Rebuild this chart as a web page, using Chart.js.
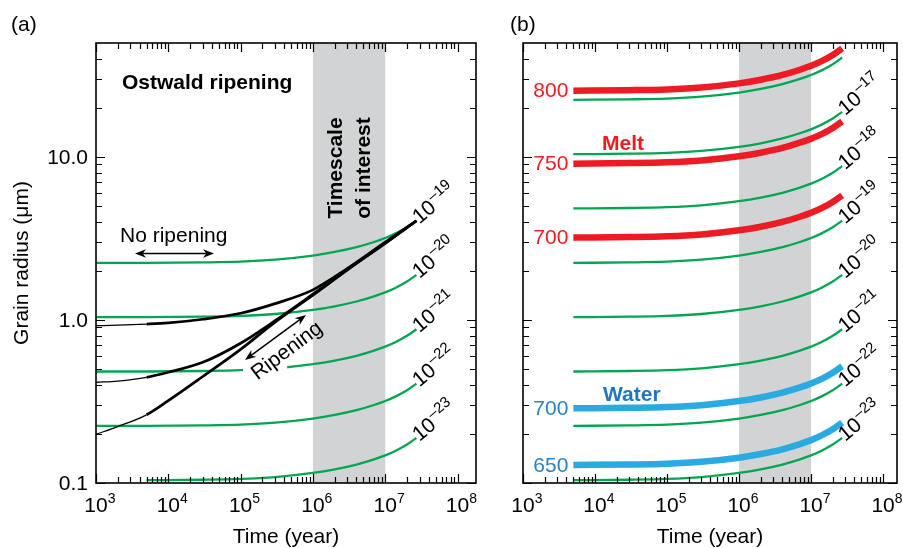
<!DOCTYPE html>
<html>
<head>
<meta charset="utf-8">
<script src="https://cdn.jsdelivr.net/npm/chart.js@4.4.1/dist/chart.umd.min.js"></script>
<style>
  html, body { margin: 0; padding: 0; background: #fff; }
  #wrap { position: relative; width: 903px; height: 548px; }
  canvas { position: absolute; top: 0; }
  #chartA { left: 0; }
  #chartB { left: 500px; }
</style>
</head>
<body>
<div id="wrap">
  <canvas id="chartA" width="500" height="548"></canvas>
  <canvas id="chartB" width="403" height="548"></canvas>
</div>
<script>
// ---- data (time in years, grain radius in µm) ----
const timeCurve = [5e3, 3e4, 1e5, 3e5, 1e6, 2e6, 4e6, 7e6, 1e7, 1.4e7, 2e7, 2.7e7];
const timeStartA = 1e3;            // panel (a) curves stay flat back to 10^3
const timeBlack = [1e3, 2e3, 5e3, 1e4, 3e4, 1e5, 3e5, 1e6, 3e6, 1e7, 2.7e7];

const green16 = [22.4, 22.56, 22.81, 23.43, 24.83, 26.13, 27.96, 30.09, 31.82, 33.98, 37.06, 40.71];
const green17 = [10.4, 10.47, 10.59, 10.88, 11.53, 12.13, 12.98, 13.97, 14.77, 15.78, 17.21, 18.90];
const green18 = [4.83, 4.864, 4.919, 5.053, 5.355, 5.634, 6.029, 6.489, 6.861, 7.327, 7.992, 8.779];
const green19 = [2.24, 2.256, 2.281, 2.344, 2.483, 2.613, 2.796, 3.009, 3.182, 3.398, 3.706, 4.071];
const green20 = [1.04, 1.047, 1.059, 1.088, 1.153, 1.213, 1.298, 1.397, 1.477, 1.578, 1.721, 1.890];
const green21 = [0.483, 0.4864, 0.4919, 0.5053, 0.5355, 0.5634, 0.6029, 0.6489, 0.6861, 0.7327, 0.7992, 0.8779];
const green22 = [0.224, 0.2256, 0.2281, 0.2343, 0.2483, 0.2613, 0.2796, 0.3009, 0.3182, 0.3398, 0.3706, 0.4071];
const green23 = [0.104, 0.1047, 0.1059, 0.1088, 0.1153, 0.1213, 0.1298, 0.1397, 0.1477, 0.1578, 0.1721, 0.1890];

const melt800 = [25.5, 25.68, 25.97, 26.68, 28.27, 29.75, 31.83, 34.26, 36.22, 38.68, 42.19, 46.35];
const melt750 = [9.1, 9.165, 9.268, 9.52, 10.09, 10.62, 11.36, 12.23, 12.93, 13.80, 15.06, 16.54];
const melt700 = [3.2, 3.223, 3.259, 3.348, 3.548, 3.733, 3.995, 4.299, 4.546, 4.854, 5.295, 5.816];
const water700 = [0.287, 0.289, 0.2923, 0.3003, 0.3182, 0.3348, 0.3583, 0.3856, 0.4077, 0.4354, 0.4749, 0.5217];
const water650 = [0.129, 0.1299, 0.1314, 0.135, 0.143, 0.1505, 0.161, 0.1733, 0.1832, 0.1957, 0.2134, 0.2345];

const black1 = [0.922, 0.93, 0.944, 0.96, 1.01, 1.10, 1.26, 1.53, 2.07, 3.0, 4.06];
const black2 = [0.415, 0.422, 0.445, 0.478, 0.55, 0.72, 0.99, 1.44, 2.04, 2.97, 4.06];
const black3 = [0.199, 0.222, 0.262, 0.32, 0.45, 0.66, 0.97, 1.42, 2.03, 2.95, 4.06];

const xTickExponents = ['3', '4', '5', '6', '7', '8'];
const yTickValues = [0.1, 1, 10];
const yTickLabels = ['0.1', '1.0', '10.0'];
const bandYears = [1e6, 1e7];
const ripeningGap = [1.08e5, 4.4e5, 0.42, 0.6];
const thinUntil = 5e3;

const FONT = '"Liberation Sans", Arial, Helvetica, sans-serif';
const GREEN = '#00a651';
const RED = '#ed1c24';
const BLUE = '#29abe2';
const BLUE_TEXT = '#2a82c6';
const SHADE = '#d1d3d4';

function pts(times, vals) {
  return times.map((t, i) => ({ x: t, y: vals[i] }));
}

function withStart(vals) {
  return [{ x: timeStartA, y: vals[0] }].concat(pts(timeCurve, vals));
}

function isDecade(v) {
  const l = Math.log10(v);
  return Math.abs(l - Math.round(l)) < 1e-6;
}

function logTicks(min, max) {
  const out = [];
  for (let e = Math.floor(Math.log10(min)); e <= Math.ceil(Math.log10(max)); e++) {
    for (let m = 1; m <= 9; m++) {
      const v = m * Math.pow(10, e);
      if (v >= min * 0.999 && v < max * 0.999) out.push({ value: v });
    }
  }
  return out;
}

function logAxis(min, max) {
  return {
    type: 'logarithmic', min, max,
    grid: { display: false, drawTicks: false },
    border: { display: false },
    ticks: { display: false },
    afterBuildTicks: s => { s.ticks = logTicks(min, max); }
  };
}

function line(data, color, width, extra) {
  return Object.assign({
    data, borderColor: color, borderWidth: width,
    pointRadius: 0, cubicInterpolationMode: 'monotone', fill: false
  }, extra || {});
}

function blackLine(vals) {
  return line(pts(timeBlack, vals), '#000', 2.7, {
    segment: { borderWidth: c => (c.p1.parsed.x <= thinUntil ? 1.3 : 2.7) }
  });
}

function arrow2(ctx, x0, y0, x1, y1) {
  const ang = Math.atan2(y1 - y0, x1 - x0);
  const hl = 11, hw = 4.2;
  ctx.beginPath();
  ctx.moveTo(x0 + Math.cos(ang) * 6, y0 + Math.sin(ang) * 6);
  ctx.lineTo(x1 - Math.cos(ang) * 6, y1 - Math.sin(ang) * 6);
  ctx.stroke();
  [[x1, y1, ang], [x0, y0, ang + Math.PI]].forEach(([hx, hy, a]) => {
    ctx.beginPath();
    ctx.moveTo(hx, hy);
    ctx.lineTo(hx - Math.cos(a) * hl - Math.sin(a) * hw, hy - Math.sin(a) * hl + Math.cos(a) * hw);
    ctx.lineTo(hx - Math.cos(a) * hl * 0.7, hy - Math.sin(a) * hl * 0.7);
    ctx.lineTo(hx - Math.cos(a) * hl + Math.sin(a) * hw, hy - Math.sin(a) * hl - Math.cos(a) * hw);
    ctx.closePath();
    ctx.fill();
  });
}

// ---- plugins ----
const bandPlugin = {
  id: 'band',
  beforeDatasetsDraw(chart) {
    const { ctx, chartArea: a, scales: { x } } = chart;
    const x0 = x.getPixelForValue(bandYears[0]);
    const x1 = x.getPixelForValue(bandYears[1]);
    ctx.save();
    ctx.fillStyle = SHADE;
    ctx.fillRect(x0, a.top, x1 - x0, a.bottom - a.top);
    ctx.restore();
  }
};

const gapPlugin = {
  id: 'gap',
  beforeDatasetDraw(chart, args) {
    const ds = chart.data.datasets[args.index];
    if (!ds.gap) return;
    const { ctx, scales: { x, y } } = chart;
    const x0 = x.getPixelForValue(ds.gap[0]), x1 = x.getPixelForValue(ds.gap[1]);
    const y0 = y.getPixelForValue(ds.gap[3]), y1 = y.getPixelForValue(ds.gap[2]);
    ctx.save();
    ctx.beginPath();
    ctx.rect(0, 0, chart.width, chart.height);
    ctx.rect(x0, y0, x1 - x0, y1 - y0);
    ctx.clip('evenodd');
  },
  afterDatasetDraw(chart, args) {
    if (chart.data.datasets[args.index].gap) chart.ctx.restore();
  }
};

const framePlugin = {
  id: 'frame',
  afterDraw(chart) {
    const { ctx, chartArea: a, scales: { x, y } } = chart;
    ctx.save();
    ctx.strokeStyle = '#000';
    ctx.lineWidth = 1.2;
    ctx.beginPath();
    x.ticks.forEach(t => {
      const px = Math.round(x.getPixelForValue(t.value)) + 0.5;
      const len = isDecade(t.value) ? 9 : 6;
      ctx.moveTo(px, a.bottom); ctx.lineTo(px, a.bottom - len);
      ctx.moveTo(px, a.top); ctx.lineTo(px, a.top + len);
    });
    y.ticks.forEach(t => {
      const py = Math.round(y.getPixelForValue(t.value)) + 0.5;
      const len = isDecade(t.value) ? 9 : 6;
      ctx.moveTo(a.left, py); ctx.lineTo(a.left + len, py);
      ctx.moveTo(a.right, py); ctx.lineTo(a.right - len, py);
    });
    ctx.stroke();
    ctx.lineWidth = 1.6;
    ctx.strokeRect(a.left, a.top, a.right - a.left, a.bottom - a.top);

    ctx.fillStyle = '#000';
    ctx.textBaseline = 'alphabetic';
    xTickExponents.forEach(e => {
      const px = x.getPixelForValue(Math.pow(10, +e));
      ctx.font = '21px ' + FONT;
      ctx.textAlign = 'center';
      ctx.fillText('10', px, a.bottom + 29);
      const w = ctx.measureText('10').width;
      ctx.font = '14px ' + FONT;
      ctx.textAlign = 'left';
      ctx.fillText(e, px + w / 2, a.bottom + 20);
    });
    ctx.font = '21px ' + FONT;
    ctx.textAlign = 'center';
    ctx.fillText('Time (year)', (a.left + a.right) / 2, a.bottom + 60);
    ctx.restore();
  }
};

const curveLabelPlugin = {
  id: 'curveLabels',
  afterDatasetsDraw(chart) {
    const { ctx } = chart;
    chart.data.datasets.forEach((ds, i) => {
      const el = chart.getDatasetMeta(i).data;
      if (ds.endLabel) {
        const p = el[el.length - 1];
        ctx.save();
        ctx.translate(p.x + 3, p.y + 4);
        ctx.rotate(-40 * Math.PI / 180);
        ctx.fillStyle = '#000';
        ctx.textAlign = 'left';
        ctx.textBaseline = 'alphabetic';
        ctx.font = '21px ' + FONT;
        ctx.fillText('10', 0, 0);
        const w = ctx.measureText('10').width;
        ctx.font = '15px ' + FONT;
        ctx.fillText(ds.endLabel, w + 1, -9);
        ctx.restore();
      }
      if (ds.startLabel) {
        const p = el[0];
        ctx.save();
        ctx.fillStyle = ds.startColor;
        ctx.font = '21px ' + FONT;
        ctx.textAlign = 'right';
        ctx.textBaseline = 'middle';
        ctx.fillText(ds.startLabel, p.x - 5, p.y + 1);
        ctx.restore();
      }
    });
  }
};

const panelAText = {
  id: 'panelAText',
  afterDraw(chart) {
    const { ctx, chartArea: a, scales: { x, y } } = chart;
    ctx.save();
    ctx.fillStyle = '#000';
    ctx.strokeStyle = '#000';
    ctx.textBaseline = 'alphabetic';
    ctx.font = '21px ' + FONT;
    ctx.textAlign = 'left';
    ctx.fillText('(a)', 11, 31);

    // y tick labels and title
    ctx.textAlign = 'right';
    ctx.textBaseline = 'middle';
    yTickValues.forEach((v, i) => {
      ctx.fillText(yTickLabels[i], a.left - 8, y.getPixelForValue(v) + 1);
    });
    ctx.save();
    ctx.translate(22, (a.top + a.bottom) / 2);
    ctx.rotate(-Math.PI / 2);
    ctx.textAlign = 'center';
    ctx.fillText('Grain radius (\u03bcm)', 0, 0);
    ctx.restore();

    ctx.textBaseline = 'alphabetic';
    ctx.textAlign = 'left';
    ctx.font = 'bold 21px ' + FONT;
    ctx.fillText('Ostwald ripening', 122, 89);

    const bx = (x.getPixelForValue(bandYears[0]) + x.getPixelForValue(bandYears[1])) / 2;
    ctx.save();
    ctx.translate(bx - 7, 168);
    ctx.rotate(-Math.PI / 2);
    ctx.textAlign = 'center';
    ctx.fillText('Timescale', 0, 0);
    ctx.fillText('of interest', 0, 28);
    ctx.restore();

    ctx.font = '21px ' + FONT;
    ctx.fillText('No ripening', 120, 242);
    ctx.lineWidth = 1.5;
    arrow2(ctx, 135, 253.5, 214, 253.5);

    ctx.save();
    ctx.translate(287, 351);
    ctx.rotate(-37 * Math.PI / 180);
    ctx.textAlign = 'center';
    ctx.textBaseline = 'middle';
    ctx.fillText('Ripening', 0, 0);
    ctx.restore();
    arrow2(ctx, 245, 360, 306, 315);
    ctx.restore();
  }
};

const panelBText = {
  id: 'panelBText',
  afterDraw(chart) {
    const { ctx, chartArea: a } = chart;
    ctx.save();
    ctx.textBaseline = 'alphabetic';
    ctx.textAlign = 'left';
    ctx.fillStyle = '#000';
    ctx.font = '21px ' + FONT;
    ctx.fillText('(b)', a.left - 13, 31);
    ctx.font = 'bold 21px ' + FONT;
    ctx.fillStyle = RED;
    ctx.fillText('Melt', a.left + 79, 150);
    ctx.fillStyle = '#1f77c0';
    ctx.fillText('Water', a.left + 80, 401);
    ctx.restore();
  }
};

function options(pad, xMax) {
  return {
    responsive: false,
    animation: false,
    devicePixelRatio: 1,
    events: [],
    layout: { padding: pad },
    plugins: { legend: { display: false }, tooltip: { enabled: false } },
    scales: { x: logAxis(1e3, xMax), y: logAxis(0.1, 50) }
  };
}

// ---- panel (a) ----
new Chart(document.getElementById('chartA'), {
  type: 'line',
  data: {
    datasets: [
      blackLine(black1),
      blackLine(black2),
      blackLine(black3),
      line(withStart(green19), GREEN, 2.3, { endLabel: '\u201319' }),
      line(withStart(green20), GREEN, 2.3, { endLabel: '\u201320' }),
      line(withStart(green21), GREEN, 2.3, { endLabel: '\u201321', gap: ripeningGap }),
      line(withStart(green22), GREEN, 2.3, { endLabel: '\u201322' }),
      line(pts(timeCurve, green23), GREEN, 2.3, { endLabel: '\u201323' })
    ]
  },
  options: options({ left: 96, right: 24, top: 43, bottom: 65 }, 1.8e8),
  plugins: [bandPlugin, gapPlugin, framePlugin, curveLabelPlugin, panelAText]
});

// ---- panel (b) ----
new Chart(document.getElementById('chartB'), {
  type: 'line',
  data: {
    datasets: [
      line(pts(timeCurve, melt800), RED, 6.5, { startLabel: '800', startColor: RED }),
      line(pts(timeCurve, melt750), RED, 6.5, { startLabel: '750', startColor: RED }),
      line(pts(timeCurve, melt700), RED, 6.5, { startLabel: '700', startColor: RED }),
      line(pts(timeCurve, water700), BLUE, 6.5, { startLabel: '700', startColor: BLUE_TEXT }),
      line(pts(timeCurve, water650), BLUE, 6.5, { startLabel: '650', startColor: BLUE_TEXT }),
      line(pts(timeCurve, green16), GREEN, 2.3),
      line(pts(timeCurve, green17), GREEN, 2.3, { endLabel: '\u201317' }),
      line(pts(timeCurve, green18), GREEN, 2.3, { endLabel: '\u201318' }),
      line(pts(timeCurve, green19), GREEN, 2.3, { endLabel: '\u201319' }),
      line(pts(timeCurve, green20), GREEN, 2.3, { endLabel: '\u201320' }),
      line(pts(timeCurve, green21), GREEN, 2.3, { endLabel: '\u201321' }),
      line(pts(timeCurve, green22), GREEN, 2.3, { endLabel: '\u201322' }),
      line(pts(timeCurve, green23), GREEN, 2.3, { endLabel: '\u201323' })
    ]
  },
  options: options({ left: 23, right: 6, top: 43, bottom: 65 }, 1.56e8),
  plugins: [bandPlugin, framePlugin, curveLabelPlugin, panelBText]
});
</script>
</body>
</html>
